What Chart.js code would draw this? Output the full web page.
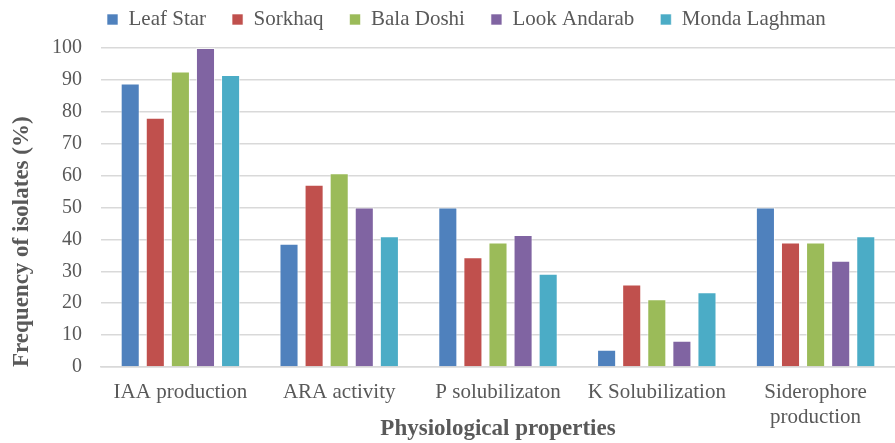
<!DOCTYPE html>
<html>
<head>
<meta charset="utf-8">
<script src="https://cdn.jsdelivr.net/npm/chart.js@4"></script>
<style>
  body { margin: 0; background: #fff; }
  #wrap { width: 895px; height: 443px; }
</style>
</head>
<body>
<div id="wrap"><canvas id="chart" width="895" height="443"></canvas></div>
<script>
// categories on the x axis
const properties = ['IAA production', 'ARA activity', 'P solubilizaton', 'K Solubilization', ['Siderophore', 'production']];

// one array per isolate source (% of isolates)
const leafStar     = [88.9, 38.6, 50.0, 5.4, 50.0];
const sorkhaq      = [78.1, 57.1, 34.4, 25.9, 39.0];
const balaDoshi    = [92.6, 60.7, 39.0, 21.2, 39.0];
const lookAndarab  = [100, 50.0, 41.4, 8.2, 33.3];
const mondaLaghman = [91.5, 41.0, 29.2, 23.4, 41.0];

const yTicks = [0, 10, 20, 30, 40, 50, 60, 70, 80, 90, 100];

const serif = "'Liberation Serif', 'Times New Roman', serif";
const textColor = '#595959';

function series(label, data, color) {
  return {
    label: label,
    data: data,
    backgroundColor: color,
    borderColor: 'rgba(255,255,255,0.6)',
    borderWidth: 1,
    categoryPercentage: 0.79,
    barPercentage: 0.76
  };
}

// pin the legend height so the plot top lands where the reference has it,
// then nudge the legend row into place (Excel puts it left of centre, up top)
const legendPlace = {
  id: 'legendPlace',
  beforeInit(chart) {
    const fit = chart.legend.fit;
    chart.legend.fit = function () {
      fit.call(this);
      this.height = 48;
    };
  },
  afterLayout(chart) {
    const lg = chart.legend;
    lg.left += 81;
    lg.right += 81;
    lg.top -= 17;
    lg.bottom -= 17;
  }
};

function draw() {
  new Chart(document.getElementById('chart').getContext('2d'), {
    type: 'bar',
    data: {
      labels: properties,
      datasets: [
        series('Leaf Star', leafStar, '#4f81bd'),
        series('Sorkhaq', sorkhaq, '#c0504d'),
        series('Bala Doshi', balaDoshi, '#9bbb59'),
        series('Look Andarab', lookAndarab, '#8064a2'),
        series('Monda Laghman', mondaLaghman, '#4bacc6')
      ]
    },
    options: {
      animation: false,
      responsive: false,
      layout: { padding: 0 },
      plugins: {
        tooltip: { enabled: false },
        legend: {
          position: 'top',
          align: 'start',
          labels: {
            boxWidth: 11,
            boxHeight: 11,
            padding: 26,
            color: textColor,
            font: { family: serif, size: 21 }
          }
        }
      },
      scales: {
        x: {
          grid: { display: false, drawTicks: false },
          border: { display: true, color: '#d9d9d9', width: 1.5 },
          ticks: {
            color: textColor,
            font: { family: serif, size: 21 },
            padding: 13,
            maxRotation: 0,
            autoSkip: false
          },
          title: {
            display: true,
            text: 'Physiological properties',
            color: textColor,
            font: { family: serif, size: 23, weight: 'bold' },
            padding: { top: 0, bottom: 0 }
          },
          afterFit(scale) { scale.height = 76; }
        },
        y: {
          min: 0,
          max: 100,
          afterBuildTicks(scale) { scale.ticks = yTicks.map(v => ({ value: v })); },
          grid: { color: '#d9d9d9', lineWidth: 1.5, drawTicks: false },
          border: { display: false },
          ticks: {
            color: textColor,
            font: { family: serif, size: 20 },
            padding: 19
          },
          title: {
            display: true,
            align: 'start',
            text: 'Frequency of isolates (%)',
            color: textColor,
            font: { family: serif, size: 23, weight: 'bold' },
            padding: { top: 8, bottom: 0 }
          },
          afterFit(scale) { scale.width = 101; }
        }
      }
    },
    plugins: [legendPlace]
  });
}

// canvas text needs the serif faces ready before the first paint
Promise.all([
  document.fonts.load("20px 'Liberation Serif'"),
  document.fonts.load("bold 20px 'Liberation Serif'")
]).then(draw, draw);
</script>
</body>
</html>
